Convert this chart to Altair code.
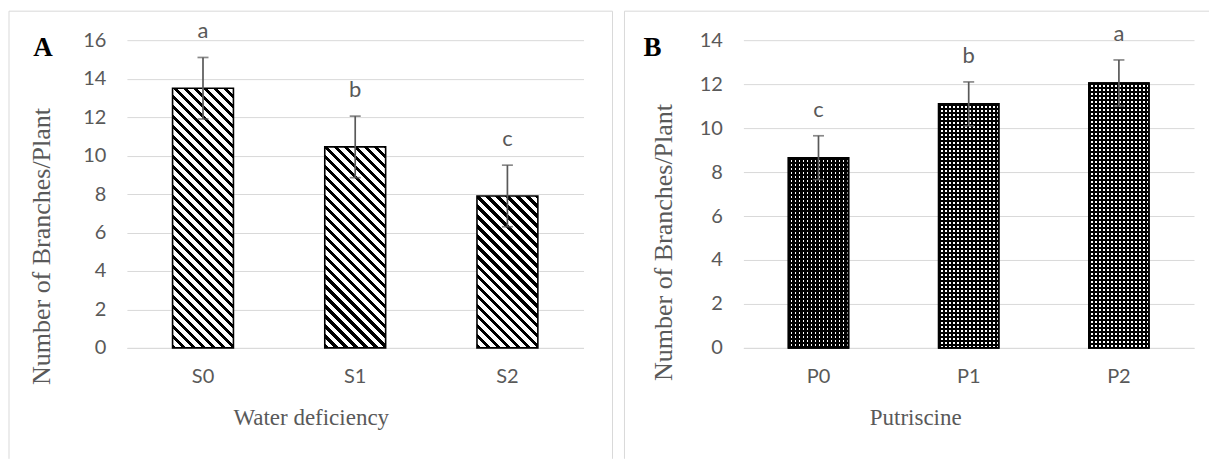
import altair as alt
import pandas as pd

# ---------------- data ----------------
water_levels = ["S0", "S1", "S2"]
water_means = [13.5, 10.45, 7.9]
water_err = [1.6, 1.6, 1.6]
water_letters = ["a", "b", "c"]

put_levels = ["P0", "P1", "P2"]
put_means = [8.65, 11.1, 12.05]
put_err = [1.0, 1.0, 1.05]
put_letters = ["c", "b", "a"]

y_title = "Number of Branches/Plant"

# ---------------- style / layout ----------------
PLOT_H = 308
GRID = "#d9d9d9"
TXT = "#595959"
SERIF = "Liberation Serif"
SANS = "Lato"
BAR_FRAC = 0.4


def stops_for(n_periods, frac, c_on, c_off):
    p = 1.0 / n_periods
    out = []
    k = 0
    while k * p < 1.0:
        t0 = min(k * p, 1.0)
        t1 = min(k * p + frac * p, 1.0)
        t2 = min((k + 1) * p, 1.0)
        out += [alt.GradientStop(offset=t0, color=c_on),
                alt.GradientStop(offset=t1, color=c_on),
                alt.GradientStop(offset=t1, color=c_off),
                alt.GradientStop(offset=t2, color=c_off)]
        k += 1
    return out


def diag_gradient(w, h, period=10.0):
    # stripes running top-left -> bottom-right (45 deg in screen space)
    s = (w + h) / (w * w + h * h)
    return alt.LinearGradient(
        gradient="linear",
        stops=stops_for((w + h) / period, 0.42, "#000000", "#ffffff"),
        x1=0, y1=1, x2=s * w, y2=1 - s * h,
    )


def vstripe_gradient(w, period=4.0):
    return alt.LinearGradient(
        gradient="linear",
        stops=stops_for(w / period, 0.6, "#000000", "#ffffff"),
        x1=0, y1=0, x2=1, y2=0,
    )


def hstripe_gradient(h, period=4.0):
    return alt.LinearGradient(
        gradient="linear",
        stops=stops_for(h / period, 0.6, "#000000", "rgba(0,0,0,0)"),
        x1=0, y1=0, x2=0, y2=1,
    )


def panel(levels, means, errs, letters, ymax, width, xtitle, tag, kind,
          ytitle_x, ytitle_y, xtitle_x, tag_x, left_border, right_border):
    df = pd.DataFrame({
        "level": levels,
        "mean": means,
        "lo": [m - e for m, e in zip(means, errs)],
        "hi": [m + e for m, e in zip(means, errs)],
        "letter": letters,
    })
    xenc = alt.X(
        "level:N",
        sort=levels,
        scale=alt.Scale(domain=levels, paddingInner=0.6, paddingOuter=0.3),
        axis=alt.Axis(
            title=xtitle, labelAngle=0, labelFont=SANS, labelFontSize=20,
            labelColor=TXT, labelPadding=19, ticks=False, domainColor=GRID,
            domainWidth=1, titleFont=SERIF, titleFontSize=23, titleColor=TXT,
            titleFontWeight="normal", titleX=xtitle_x, titleY=70,
            titleBaseline="middle", titleAnchor="middle",
        ),
    )
    yscale = alt.Scale(domain=[0, ymax], nice=False)
    yaxis = alt.Axis(
        values=list(range(0, ymax + 1, 2)), grid=True, gridColor=GRID,
        gridWidth=1, domain=False, ticks=False, labelFont=SANS,
        labelFontSize=20, labelColor=TXT, labelPadding=21,
        titleFont=SERIF, titleFontSize=26, titleColor=TXT,
        titleFontWeight="normal", titleAngle=270, titleX=ytitle_x,
        titleY=ytitle_y, titleBaseline="middle", titleAlign="center",
    )

    def Y(field):
        return alt.Y(field, type="quantitative", scale=yscale, axis=yaxis,
                     title=y_title)

    base = alt.Chart(df)
    layers = []
    bar_w = BAR_FRAC * width / 3.0
    for lv, m in zip(levels, means):
        h = m / ymax * PLOT_H
        sub = base.transform_filter(alt.datum.level == lv)
        if kind == "diag":
            layers.append(
                sub.mark_bar(fill=diag_gradient(bar_w, h), stroke="black",
                             strokeWidth=1.6).encode(x=xenc, y=Y("mean"))
            )
        else:
            layers.append(
                sub.mark_bar(fill=vstripe_gradient(bar_w), stroke="black",
                             strokeWidth=1.6).encode(x=xenc, y=Y("mean"))
            )
            layers.append(
                sub.mark_bar(fill=hstripe_gradient(h), stroke="black",
                             strokeWidth=1.6).encode(x=xenc, y=Y("mean"))
            )

    err = base.mark_rule(color=TXT, strokeWidth=1.7).encode(
        x=xenc, y=Y("lo"), y2="hi")
    cap_hi = base.mark_tick(color=TXT, thickness=1.7, size=11).encode(
        x=xenc, y=Y("hi"))
    cap_lo = base.mark_tick(color=TXT, thickness=1.7, size=11).encode(
        x=xenc, y=Y("lo"))
    lab = base.mark_text(font=SANS, fontSize=22, color=TXT,
                         baseline="alphabetic", dy=-19).encode(
        x=xenc, y=Y("hi"), text="letter")

    one = alt.Chart(pd.DataFrame({"k": [0]}))
    tag_mark = one.mark_text(text=tag, font=SERIF, fontWeight="bold",
                             fontSize=27, color="black", baseline="alphabetic",
                             align="center").encode(
        x=alt.value(tag_x), y=alt.value(16))
    borders = [
        one.mark_rule(color=GRID, strokeWidth=1).encode(
            x=alt.value(left_border), y=alt.value(-29), y2=alt.value(419)),
        one.mark_rule(color=GRID, strokeWidth=1).encode(
            x=alt.value(left_border), x2=alt.value(right_border),
            y=alt.value(-29)),
    ]
    if right_border >= width + 20:
        borders.append(
            one.mark_rule(color=GRID, strokeWidth=1).encode(
                x=alt.value(right_border), y=alt.value(-29), y2=alt.value(419)))

    return alt.layer(*borders, *layers, err, cap_hi, cap_lo, lab,
                     tag_mark).properties(width=width, height=PLOT_H)


panel_a = panel(water_levels, water_means, water_err, water_letters, 16, 457,
                "Water deficiency", "A", "diag",
                ytitle_x=-85, ytitle_y=206, xtitle_x=184, tag_x=-84,
                left_border=-118, right_border=486)
panel_b = panel(put_levels, put_means, put_err, put_letters, 14, 451,
                "Putriscine", "B", "dots",
                ytitle_x=-80, ytitle_y=202, xtitle_x=172, tag_x=-91,
                left_border=-119, right_border=466)

chart = alt.hconcat(panel_a, panel_b, spacing=10).properties(
    padding={"left": 8, "top": 10, "right": 0, "bottom": 0},
    background="white",
).configure_view(stroke=None)

chart.save("out.html", embed_options={"renderer": "svg", "actions": False})
